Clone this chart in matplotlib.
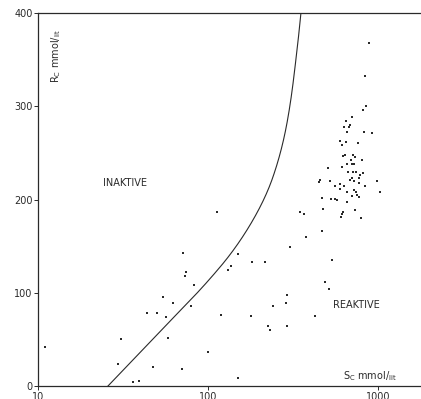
import matplotlib.pyplot as plt
import numpy as np

# boundary curve between the inactive and reactive regions
curve_s = [25.8, 59.8, 93.5, 148, 216, 265, 303, 338, 352]
curve_r = [0, 69.7, 106, 149, 199.5, 245.6, 296, 368, 400]

# individual samples, S_c (mmol/lit) vs R_c (mmol/lit)
samples_s = [
    11.0, 30.7, 29.4, 36.4, 39.3, 43.8, 49.9, 54.2, 56.6, 61.9, 58.4, 47.3,
    113.4, 71.6, 74.0, 73.0, 82.7, 79.4, 119.3, 130.6, 137.1, 149.5, 180.7,
    216.3, 179.8, 99.6, 70.3, 150.7, 226.3, 230.7, 240.3, 288.8, 291.5, 290.4,
    302.5, 345.9, 368.6, 377.2, 427.6, 491, 516.9, 538.3, 470.4, 476.4,
    885, 838.6, 846.6, 812.9, 703.4, 645.6, 687.3, 631, 677.6, 654.4, 827.4,
    918.7, 599.8, 651, 616.6, 762.5, 619.5, 639.2, 715.5, 735.3, 690.7, 808.6,
    659.8, 699.8, 722.3, 611.6, 505.8, 668.9, 709.6, 742.3, 812.9, 783.5, 770,
    706.1, 455.9, 451.6, 522, 719.5, 990.9, 773, 597.7, 558.5, 633.7, 838.6,
    683.9, 597.7, 722.3, 739.5, 659.8, 1031.6, 749.4, 706.1, 773, 529.1, 561,
    466.6, 571.5, 654.4, 625.2, 616.6, 606, 732.2, 794.3,
]
samples_r = [
    41.5, 50.1, 23.6, 4.6, 5.4, 78, 78.6, 95.1, 73.5, 89.3, 51.8, 20.7,
    186.6, 143, 122.3, 118.3, 108.3, 85.3, 76.5, 124.1, 128.7, 141.2, 132.7,
    133, 74.7, 36.5, 18.6, 8.3, 64.3, 60.1, 85.5, 89.3, 97.6, 64.3,
    149.4, 186.6, 184.4, 159.8, 75.1, 111, 103.7, 135.1, 166.5, 189.5,
    368.2, 332.4, 300.6, 296.3, 288.8, 283.9, 279.9, 277.7, 277.4, 272.4, 272.7,
    271, 262.7, 261.3, 258.1, 260.9, 246.6, 247.4, 247.7, 245.9, 242.4, 242.4,
    238.1, 238.1, 238.1, 235.2, 233.8, 229.8, 229.5, 229.2, 228.7, 226.3, 222.7,
    222.7, 220.9, 219.1, 220.2, 220.2, 220.2, 217.4, 216.6, 214.8, 214.5, 214.2,
    220.9, 210.9, 210.2, 208.4, 207.7, 207.7, 204.8, 204.1, 202.4, 200.5, 200.5,
    201.3, 199.5, 197.6, 186.9, 184.1, 180.9, 188.7, 180.5,
]

x_ticks = [10, 100, 1000]
y_ticks = [0, 100, 200, 300, 400]

ink = "#2a2a2a"
plt.rcParams["font.family"] = "DejaVu Sans"


def chaikin(u, v, passes=5):
    # corner cutting, keeps both end points
    pts = np.column_stack([u, v]).astype(float)
    for _ in range(passes):
        a, b = pts[:-1], pts[1:]
        q = 0.75 * a + 0.25 * b
        r = 0.25 * a + 0.75 * b
        mid = np.empty((2 * len(a), 2))
        mid[0::2], mid[1::2] = q, r
        pts = np.vstack([pts[:1], mid[1:-1], pts[-1:]])
    return pts[:, 0], pts[:, 1]


fig = plt.figure(figsize=(4.21, 3.99), dpi=100)
ax = fig.add_axes([0.0903, 0.0326, 0.9097, 0.9348])

# smooth in log(S) so the corners are cut evenly on the log axis
log_s, r_line = chaikin(np.log10(curve_s) * 400, curve_r)
ax.plot(10 ** (log_s / 400), r_line, color=ink, lw=0.8)

ax.scatter(samples_s, samples_r, s=2.4, color=ink, marker="s", linewidths=0)

ax.set_xscale("log")
ax.set_xlim(10, 1790)
ax.set_ylim(0, 400)
ax.set_xticks(x_ticks)
ax.set_xticklabels([str(t) for t in x_ticks])
ax.set_yticks(y_ticks)
ax.set_yticklabels([str(t) for t in y_ticks])
ax.minorticks_off()

for side in ["left", "bottom", "top"]:
    ax.spines[side].set_color(ink)
    ax.spines[side].set_linewidth(0.9)
ax.spines["right"].set_visible(False)
ax.tick_params(axis="both", length=3, width=0.7, color=ink, labelcolor=ink,
               labelsize=7, pad=1)

ax.text(32.5, 217.7, "INAKTIVE", fontsize=7, color=ink, ha="center", va="center")
ax.text(742, 86.9, "REAKTIVE", fontsize=7, color=ink, ha="center", va="center")
ax.text(0.047, 0.885, r"R$_\mathrm{C}$ mmol/$_\mathrm{lit}$", transform=ax.transAxes,
        rotation=90, fontsize=7, color=ink, ha="center", va="center")
ax.text(898, 10.7, r"S$_\mathrm{C}$ mmol/$_\mathrm{lit}$", fontsize=7, color=ink,
        ha="center", va="center")

fig.savefig("out.png", dpi=100)
